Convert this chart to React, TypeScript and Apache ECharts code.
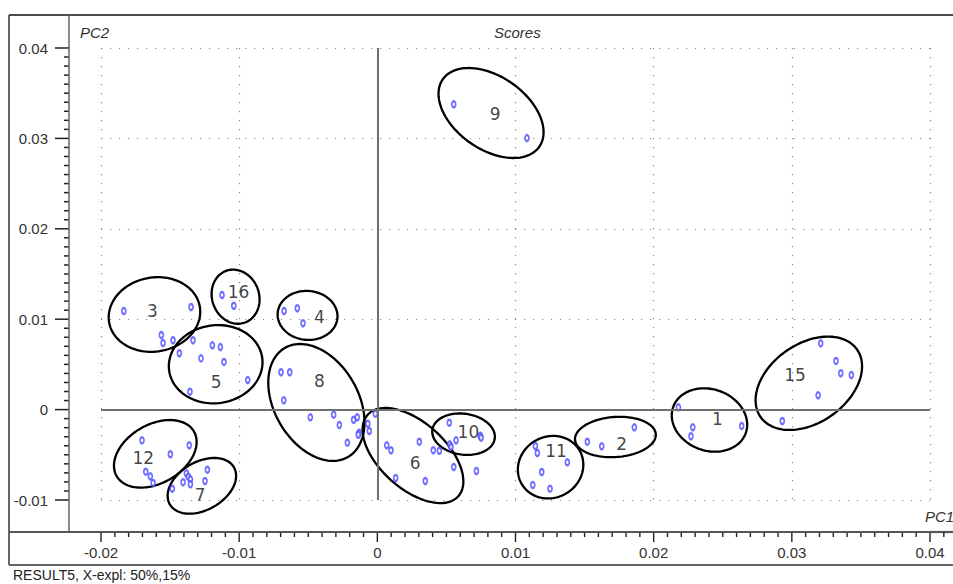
import React, { useEffect, useRef } from "react";
import * as echarts from "echarts";

// Score points (PC1, PC2) grouped by sample cluster
const cluster1 = [[0.02179, 0.00025], [0.02283, -0.00196], [0.0227, -0.00295], [0.02637, -0.00181]];
const cluster2 = [[0.0152, -0.00355], [0.01624, -0.00406], [0.0186, -0.00196]];
const cluster3 = [[-0.01835, 0.01091], [-0.01348, 0.01135], [-0.01563, 0.00825], [-0.01551, 0.00737], [-0.01479, 0.00767]];
const cluster4 = [[-0.00675, 0.01091], [-0.00579, 0.01121], [-0.00538, 0.00955]];
const cluster5 = [[-0.01334, 0.00767], [-0.01433, 0.00623], [-0.01276, 0.00567], [-0.01194, 0.00711], [-0.01136, 0.00692], [-0.0111, 0.00527], [-0.00938, 0.00327], [-0.01356, 0.00198]];
const cluster6 = [[0.00068, -0.00395], [0.00099, -0.0045], [0.00304, -0.00355], [0.00405, -0.0045], [0.00449, -0.00455], [0.00133, -0.00757], [0.00347, -0.0079], [0.00553, -0.00635]];
const cluster7 = [[-0.0123, -0.00665], [-0.01382, -0.00705], [-0.01368, -0.00742], [-0.01353, -0.00771], [-0.01353, -0.00826], [-0.01406, -0.00804], [-0.01247, -0.0079], [-0.01484, -0.00875]];
const cluster8 = [[-0.00697, 0.00413], [-0.00634, 0.00413], [-0.00677, 0.00103], [-0.00485, -0.00085], [-0.00316, -0.00056], [-0.00275, -0.0017], [-0.00171, -0.00112], [-0.00145, -0.00085], [-0.00217, -0.00366], [-0.00132, -0.00256], [-0.00138, -0.00278], [-0.00069, -0.00156], [-0.00058, -0.00237], [-0.00014, -0.00045]];
const cluster9 = [[0.00553, 0.03377], [0.01083, 0.03004]];
const cluster10 = [[0.00521, -0.00145], [0.0057, -0.0034], [0.00524, -0.00384], [0.00533, -0.00414], [0.00745, -0.00289], [0.00751, -0.00311], [0.00717, -0.00679]];
const cluster11 = [[0.01144, -0.00403], [0.01158, -0.0048], [0.01375, -0.00583], [0.0119, -0.0069], [0.01125, -0.00834], [0.0125, -0.00875]];
const cluster12 = [[-0.01703, -0.0034], [-0.01361, -0.00395], [-0.01498, -0.00494], [-0.01676, -0.00687], [-0.01643, -0.00738], [-0.01623, -0.00812]];
const cluster15 = [[0.03209, 0.00733], [0.0332, 0.00538], [0.03354, 0.00402], [0.03431, 0.00383], [0.0319, 0.00158], [0.02931, -0.00126]];
const cluster16 = [[-0.01124, 0.01268], [-0.01039, 0.01149]];

// Group labels and their positions
const groupNames = ["1", "2", "3", "4", "5", "6", "7", "8", "9", "10", "11", "12", "15", "16"];
const labelPC1 = [0.02461, 0.01769, -0.01628, -0.0042, -0.01167, 0.00273, -0.01283, -0.0042, 0.00852, 0.00659, 0.01293, -0.01694, 0.03023, -0.01005];
const labelPC2 = [-0.00107, -0.00384, 0.01091, 0.01021, 0.00309, -0.00594, -0.00945, 0.00316, 0.0327, -0.00251, -0.00455, -0.00539, 0.00383, 0.01301];

// Group ellipses: centre (PC1, PC2), semi-axes (PC1 units), tilt (deg)
const ellipseCX = [0.02404, 0.01723, -0.01613, -0.00505, -0.0117, 0.00258, -0.0127, -0.00441, 0.00823, 0.00624, 0.01254, -0.01607, 0.03123, -0.01026];
const ellipseCY = [-0.00115, -0.00303, 0.01052, 0.01042, 0.00502, -0.00508, -0.00843, 0.00079, 0.03281, -0.00272, -0.00637, -0.00489, 0.00291, 0.01249];
const ellipseA = [0.00279, 0.00293, 0.00333, 0.00217, 0.0034, 0.00441, 0.00268, 0.00456, 0.00426, 0.00228, 0.00242, 0.00323, 0.00426, 0.00199];
const ellipseB = [0.00222, 0.00145, 0.00268, 0.00177, 0.00282, 0.00239, 0.00174, 0.00304, 0.00263, 0.00148, 0.00221, 0.00212, 0.00285, 0.0017];
const ellipseTilt = [20, -4, -10, 5, -8, 42, -30, 60, 35, 8, -30, -30, -35, 70];

// Axis tick values
const xMajorTicks = [-0.02, -0.01, 0, 0.01, 0.02, 0.03, 0.04];
const yMajorTicks = [-0.01, 0, 0.01, 0.02, 0.03, 0.04];
const minorStep = 0.001;

const NARROW = "'Liberation Sans Narrow', 'Liberation Sans', Arial, sans-serif";

export default function App() {
  const ref = useRef<HTMLDivElement>(null);
  useEffect(() => {
    if (!ref.current) return;
    const chart = echarts.init(ref.current, undefined, { renderer: "svg" });
    const points = [
      ...cluster1, ...cluster2, ...cluster3, ...cluster4, ...cluster5, ...cluster6, ...cluster7,
      ...cluster8, ...cluster9, ...cluster10, ...cluster11, ...cluster12, ...cluster15, ...cluster16,
    ];
    const labels = groupNames.map((n, i) => [labelPC1[i], labelPC2[i], n]);
    const ellipses = ellipseCX.map((cx, i) => [cx, ellipseCY[i], ellipseA[i], ellipseB[i], ellipseTilt[i]]);
    const fmt = (v: number) => String(Number(v.toFixed(2)));
    const dotted = { color: "#8a8a8a", width: 1.2, type: [1.2, 7.8] as any };

    const baseGraphics: any[] = [
      { type: "line", shape: { x1: 9, y1: 15, x2: 953, y2: 15 }, style: { stroke: "#111", lineWidth: 1.5 } },
      { type: "line", shape: { x1: 9, y1: 15, x2: 9, y2: 565 }, style: { stroke: "#333", lineWidth: 1.5 } },
      { type: "line", shape: { x1: 69, y1: 15, x2: 69, y2: 48 }, style: { stroke: "#666", lineWidth: 1.5 } },
      { type: "line", shape: { x1: 69, y1: 500, x2: 69, y2: 532 }, style: { stroke: "#666", lineWidth: 1.5 } },
      { type: "line", shape: { x1: 9, y1: 532, x2: 101, y2: 532 }, style: { stroke: "#555", lineWidth: 2.2 } },
      { type: "line", shape: { x1: 930, y1: 532, x2: 953, y2: 532 }, style: { stroke: "#555", lineWidth: 2.2 } },
      { type: "line", shape: { x1: 9, y1: 565, x2: 953, y2: 565 }, style: { stroke: "#666", lineWidth: 2 } },
      { type: "text", left: 80, top: 25, style: { text: "PC2", font: `italic 15px ${NARROW}`, fill: "#333" } },
      { type: "text", left: 494, top: 25, style: { text: "Scores", font: `italic 15px ${NARROW}`, fill: "#333" } },
      { type: "text", left: 925, top: 509, style: { text: "PC1", font: `italic 15px ${NARROW}`, fill: "#333" } },
      { type: "text", left: 13, top: 568, style: { text: "RESULT5, X-expl: 50%,15%", font: `14px ${NARROW}`, fill: "#222" } },
    ];

    chart.setOption({
      animation: false,
      backgroundColor: "#ffffff",
      grid: { left: 101, right: 23, top: 48, bottom: 84 },
      xAxis: {
        type: "value",
        min: -0.02,
        max: 0.04,
        interval: 0.01,
        offset: 32,
        axisLine: { show: true, onZero: false, lineStyle: { color: "#555", width: 2.2 } },
        axisTick: { show: false },
        minorTick: { show: false },
        axisLabel: { formatter: fmt, margin: 13, fontFamily: NARROW, fontSize: 15, color: "#333" },
        splitLine: { show: true, lineStyle: dotted },
        minorSplitLine: { show: false },
      },
      yAxis: {
        type: "value",
        min: -0.01,
        max: 0.04,
        interval: 0.01,
        offset: 32,
        axisLine: { show: true, onZero: false, lineStyle: { color: "#666", width: 1.5 } },
        axisTick: { show: false },
        minorTick: { show: false },
        axisLabel: { formatter: fmt, margin: 21, fontFamily: NARROW, fontSize: 15, color: "#333" },
        splitLine: { show: true, lineStyle: dotted },
        minorSplitLine: { show: false },
      },
      graphic: baseGraphics,
      series: [
        {
          type: "custom",
          data: ellipses,
          encode: { x: 0, y: 1 },
          z: 3,
          renderItem: (params: any, api: any) => {
            const c = api.coord([api.value(0), api.value(1)]);
            const a = api.size([api.value(2), 0])[0];
            const b = api.size([api.value(3), 0])[0];
            const t = (api.value(4) * Math.PI) / 180;
            const pts: number[][] = [];
            const n = 120;
            for (let k = 0; k < n; k++) {
              const u = (k / n) * Math.PI * 2;
              const ex = a * Math.cos(u);
              const ey = b * Math.sin(u);
              pts.push([c[0] + ex * Math.cos(t) - ey * Math.sin(t), c[1] + ex * Math.sin(t) + ey * Math.cos(t)]);
            }
            return {
              type: "polygon",
              shape: { points: pts },
              style: { fill: "none", stroke: "#000", lineWidth: 2.3 },
            };
          },
        },
        {
          type: "scatter",
          data: points,
          symbol: "emptyCircle",
          symbolSize: [4, 6],
          z: 4,
          itemStyle: { color: "#4a4aff", borderColor: "#4a4aff", borderWidth: 1.3 },
          markLine: {
            silent: true,
            symbol: "none",
            label: { show: false },
            lineStyle: { color: "#707070", width: 2, type: "solid" },
            data: [{ xAxis: 0 }, { yAxis: 0 }],
          },
        },
        {
          type: "scatter",
          data: labels,
          symbol: "circle",
          symbolSize: 1,
          z: 5,
          itemStyle: { color: "rgba(0,0,0,0)" },
          label: {
            show: true,
            position: "inside",
            formatter: (p: any) => p.value[2],
            fontFamily: "'DejaVu Sans', sans-serif",
            fontSize: 17,
            color: "#111",
          },
        },
      ],
    });

    // Axis ticks placed through the chart's own scales
    const tickGraphics: any[] = [];
    const yBase = yMajorTicks[0];
    const xBase = xMajorTicks[0];
    const addX = (v: number, major: boolean) => {
      const p = chart.convertToPixel({ gridIndex: 0 }, [v, yBase]) as number[];
      if (!p) return;
      const y0 = p[1] + 32;
      tickGraphics.push({
        type: "line",
        shape: { x1: p[0], y1: y0, x2: p[0], y2: y0 + (major ? 10 : 5) },
        style: { stroke: "#222", lineWidth: 1.4 },
      });
    };
    const addY = (v: number, major: boolean) => {
      const p = chart.convertToPixel({ gridIndex: 0 }, [xBase, v]) as number[];
      if (!p) return;
      const x0 = p[0] - 32;
      tickGraphics.push({
        type: "line",
        shape: { x1: x0 - (major ? 14 : 5), y1: p[1], x2: x0, y2: p[1] },
        style: { stroke: "#222", lineWidth: 1.5 },
      });
    };
    xMajorTicks.forEach((v, i) => {
      addX(v, true);
      const count = i === xMajorTicks.length - 1 ? 1 : 9;
      for (let k = 1; k <= count; k++) addX(+(v + k * minorStep).toFixed(4), false);
    });
    yMajorTicks.forEach((v, i) => {
      addY(v, true);
      if (i < yMajorTicks.length - 1) {
        for (let k = 1; k <= 9; k++) addY(+(v + k * minorStep).toFixed(4), false);
      }
    });
    chart.setOption({ graphic: [...baseGraphics, ...tickGraphics] });

    return () => chart.dispose();
  }, []);
  return (
    <div
      ref={ref}
      style={{ position: "fixed", left: 0, top: 0, width: 953, height: 584, background: "#fff" }}
    />
  );
}
